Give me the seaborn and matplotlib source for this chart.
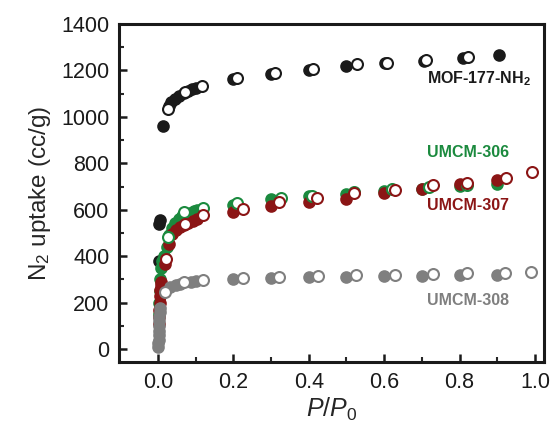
import numpy as np
import pandas as pd
import matplotlib
matplotlib.use('Agg')
import matplotlib.pyplot as plt
import seaborn as sns

# MOF-177-NH2 (adsorption = filled, desorption = open)
mof_ads_x = [0.003, 0.004, 0.005, 0.014, 0.030, 0.036, 0.045, 0.055, 0.070, 0.080, 0.090, 0.100,
             0.200, 0.300, 0.400, 0.500, 0.603, 0.705, 0.808, 0.905]
mof_ads_y = [378, 538, 558, 960, 1045, 1064, 1078, 1090, 1105, 1112, 1120, 1126,
             1165, 1186, 1204, 1219, 1230, 1240, 1254, 1267]
mof_des_x = [0.026, 0.072, 0.118, 0.210, 0.310, 0.412, 0.527, 0.607, 0.711, 0.823]
mof_des_y = [1033, 1107, 1135, 1168, 1190, 1207, 1226, 1234, 1244, 1258]

# UMCM-306
u306_ads_x = [0.003, 0.004, 0.005, 0.006, 0.008, 0.010, 0.015, 0.023, 0.030, 0.037, 0.045, 0.055,
              0.065, 0.075, 0.085, 0.095, 0.105, 0.200, 0.300, 0.400, 0.500, 0.600, 0.700, 0.800, 0.900]
u306_ads_y = [150, 200, 250, 300, 350, 380, 400, 440, 490, 520, 545, 560,
              572, 580, 588, 594, 600, 620, 645, 660, 670, 680, 690, 701, 712]
u306_des_x = [0.027, 0.069, 0.120, 0.210, 0.327, 0.410, 0.520, 0.620, 0.720, 0.820]
u306_des_y = [483, 591, 609, 630, 652, 660, 675, 688, 698, 705]

# UMCM-307
u307_ads_x = [0.002, 0.003, 0.004, 0.005, 0.006, 0.007, 0.008, 0.009, 0.019, 0.030, 0.037, 0.049,
              0.060, 0.070, 0.081, 0.094, 0.105, 0.200, 0.300, 0.400, 0.500, 0.600, 0.700, 0.800, 0.900]
u307_ads_y = [110, 140, 170, 200, 230, 255, 275, 290, 366, 454, 497, 512,
              526, 535, 545, 552, 560, 591, 615, 634, 648, 672, 689, 710, 728]
u307_des_x = [0.021, 0.071, 0.121, 0.225, 0.320, 0.423, 0.520, 0.630, 0.730, 0.820, 0.923, 0.993]
u307_des_y = [390, 540, 576, 605, 634, 652, 672, 686, 705, 715, 737, 762]

# UMCM-308
u308_ads_x = [0.001, 0.001, 0.002, 0.002, 0.003, 0.003, 0.004, 0.004, 0.005, 0.006,
              0.032, 0.049, 0.060, 0.087, 0.100, 0.200, 0.300, 0.400, 0.500, 0.600, 0.700, 0.800, 0.900]
u308_ads_y = [10, 25, 40, 60, 80, 100, 120, 140, 160, 175,
              267, 275, 282, 289, 293, 304, 308, 309, 311, 314, 316, 320, 320]
u308_des_x = [0.019, 0.070, 0.120, 0.225, 0.320, 0.425, 0.525, 0.630, 0.730, 0.820, 0.920, 0.990]
u308_des_y = [246, 289, 297, 307, 311, 313, 318, 320, 322, 327, 328, 333]

series = [
    ('MOF-177-NH$_\\mathbf{2}$', '#1a1a1a', mof_ads_x, mof_ads_y, mof_des_x, mof_des_y, 1166),
    ('UMCM-306', '#1b8a3e', u306_ads_x, u306_ads_y, u306_des_x, u306_des_y, 847),
    ('UMCM-307', '#8b1515', u307_ads_x, u307_ads_y, u307_des_x, u307_des_y, 619),
    ('UMCM-308', '#7f7f7f', u308_ads_x, u308_ads_y, u308_des_x, u308_des_y, 211),
]

sns.set_style('ticks')
plt.rcParams['font.family'] = ['Liberation Sans', 'DejaVu Sans']
plt.rcParams['mathtext.fontset'] = 'custom'
plt.rcParams['mathtext.rm'] = 'Liberation Sans'
plt.rcParams['mathtext.it'] = 'Liberation Sans:italic'
plt.rcParams['mathtext.bf'] = 'Liberation Sans:bold'

fig = plt.figure(figsize=(5.52, 4.25), dpi=100)
ax = fig.add_axes([0.2156, 0.148, 0.77, 0.7955])

for name, col, ax_x, ax_y, dx, dy, ly in series:
    sns.scatterplot(x=ax_x, y=ax_y, color=col, s=62, edgecolor=col, linewidth=1.2, ax=ax, zorder=3)
    sns.scatterplot(x=dx, y=dy, color='white', s=62, edgecolor=col, linewidth=1.5, ax=ax, zorder=4)
    ax.text(0.713, ly, name, color=col, fontsize=11.5, fontweight='bold', va='center', ha='left')

ax.set_xlim(-0.103, 1.024)
ax.set_ylim(-56, 1400)
ax.set_xticks(np.arange(0, 1.01, 0.2))
ax.set_xticklabels(['0.0', '0.2', '0.4', '0.6', '0.8', '1.0'])
ax.set_xticks(np.arange(0.1, 1.0, 0.2), minor=True)
ax.set_yticks(np.arange(0, 1401, 200))
ax.set_yticks(np.arange(100, 1400, 200), minor=True)
ax.tick_params(which='major', direction='in', length=6, width=1.8, labelsize=15.5, pad=7, colors='#1a1a1a')
ax.tick_params(which='minor', direction='in', length=3.5, width=1.5)
for sp in ax.spines.values():
    sp.set_linewidth(2.2)
    sp.set_color('#1a1a1a')

ax.set_xlabel('$\\it{P}$/$\\it{P}_0$', fontsize=18, labelpad=2)
ax.set_ylabel('N$_2$ uptake (cc/g)', fontsize=17.5, labelpad=6)

fig.savefig('out.png', dpi=100)
